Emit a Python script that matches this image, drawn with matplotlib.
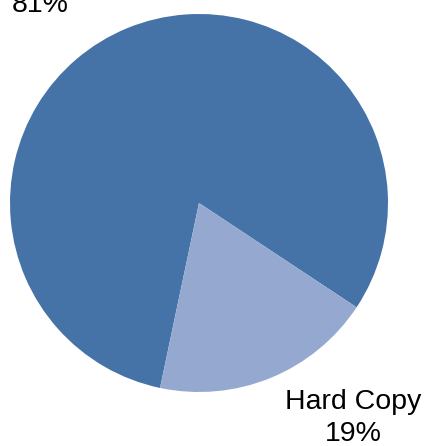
import matplotlib
matplotlib.use('Agg')
from matplotlib.pyplot import figure

# data
categories = ['', 'Hard Copy']   # first label lies above the canvas in the source
shares = [81, 19]
colors = ['#4573A7', '#95A9D0']

fg = figure(figsize=(4.24, 4.46), dpi=100)
ax = fg.add_axes([0, 0, 1, 1])

# pixel frame, y up
ax.pie(shares, colors=colors, startangle=-33.5, counterclock=True,
       center=(199, 243), radius=189, frame=True,
       wedgeprops=dict(linewidth=0))
ax.set_xlim(0, 424)
ax.set_ylim(0, 446)
ax.set_aspect('equal')
ax.axis('off')

font = dict(family=['Liberation Sans', 'DejaVu Sans'], fontsize=20.5, color='black')
# top label is clipped by the canvas edge, as in the source
ax.text(40, 446 - 12, f'{shares[0]}%', ha='center', va='baseline', **font)
ax.text(353, 446 - 409, categories[1], ha='center', va='baseline', **font)
ax.text(353, 446 - 441, f'{shares[1]}%', ha='center', va='baseline', **font)

fg.savefig('out.png', dpi=100)
